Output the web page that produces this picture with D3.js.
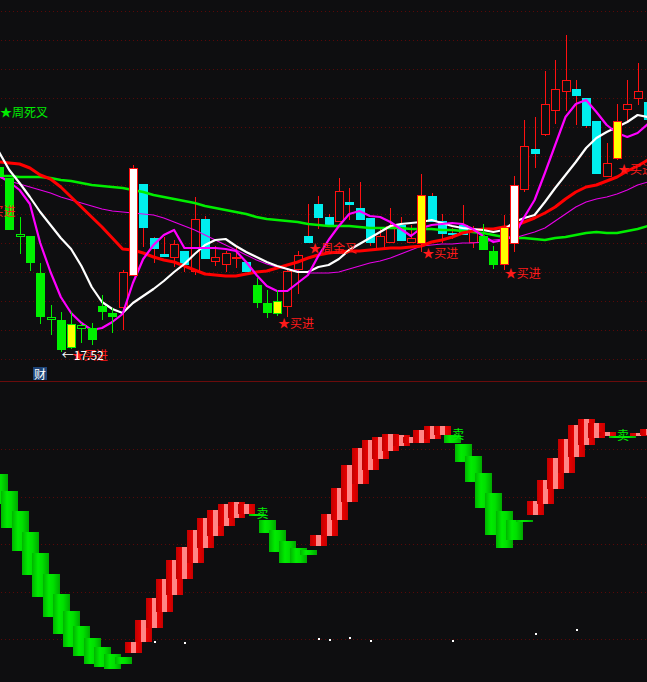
<!DOCTYPE html>
<html><head><meta charset="utf-8">
<script src="https://cdn.jsdelivr.net/npm/d3@7"></script>
<style>html,body{margin:0;padding:0;background:#0e0e10;overflow:hidden}svg{display:block}</style>
</head><body><svg id="c" width="647" height="682"></svg>
<script>
// ---------- data (index = trading day) ----------
const style = ["G","G","G","G","G","G","G","Y","G","G","G","G","K","W","K","K","K","K","K","K","K","K","K","K","K","G","G","Y","K","K","K","K","K","K","K","K","K","K","K","K","K","Y","K","K","K","K","K","G","G","Y","W","K","K","K","K","K","K","K","K","K","Y","K","K","K"];
const open  = [21.22,21.00,19.84,19.84,19.10,18.18,18.16,18.08,18.00,18.00,18.44,18.30,18.42,19.06,20.88,19.80,19.48,19.42,19.54,19.14,20.18,19.34,19.28,19.40,19.32,18.86,18.50,18.54,18.44,19.18,19.84,20.48,20.22,20.14,20.52,20.40,20.20,19.60,19.72,20.06,19.72,19.70,20.64,20.14,19.90,20.06,19.72,19.84,19.54,19.28,19.70,20.78,21.58,21.88,22.36,22.74,22.78,22.60,22.14,21.04,21.40,22.38,22.60,22.52];
const close = [21.02,19.96,19.88,19.30,18.22,18.22,17.56,17.62,18.06,17.76,18.32,18.22,19.12,21.20,20.00,19.58,19.42,19.68,19.26,20.18,19.38,19.42,19.50,19.42,19.12,18.50,18.30,18.30,19.14,19.46,19.70,20.20,20.06,20.74,20.46,20.16,19.70,19.84,20.04,19.74,19.80,20.66,20.12,19.88,19.86,19.86,19.92,19.56,19.26,20.02,20.86,21.64,21.48,22.48,22.78,22.96,22.64,22.04,21.08,21.30,22.14,22.48,22.74,22.16];
const high  = [21.26,21.00,20.22,19.84,19.30,18.46,18.32,18.32,18.10,18.10,18.66,18.40,19.16,21.26,20.88,19.82,19.82,19.76,19.54,20.62,20.24,19.64,19.54,19.62,19.32,19.00,18.76,18.76,19.16,19.54,20.48,20.64,20.28,21.00,20.80,20.92,20.20,20.02,20.40,20.22,20.06,21.08,20.70,20.28,20.00,20.46,20.04,20.08,19.64,20.26,21.04,22.16,22.22,23.14,23.36,23.86,22.96,22.60,22.14,21.70,22.48,22.96,23.30,22.52];
const low   = [21.00,19.96,19.48,19.14,18.08,17.86,17.52,17.58,17.70,17.66,18.16,17.90,17.96,19.06,19.62,19.30,19.42,19.22,19.12,19.06,19.38,19.24,19.12,19.20,19.12,18.40,18.20,18.24,18.22,18.68,19.70,19.98,20.06,20.14,20.16,20.16,19.64,19.56,19.72,19.74,19.72,19.52,20.12,19.70,19.78,19.86,19.60,19.56,19.18,19.16,19.52,20.72,21.20,21.84,22.08,22.34,22.06,22.00,21.08,21.04,21.36,22.12,22.46,22.16];

const lineWhite = [21.52,21.16,20.90,20.62,20.32,20.06,19.80,19.58,19.24,18.82,18.52,18.38,18.30,18.50,18.64,18.78,18.94,19.12,19.28,19.48,19.66,19.76,19.78,19.64,19.52,19.42,19.32,19.24,19.18,19.12,19.12,19.22,19.26,19.38,19.56,19.68,19.80,19.92,20.04,20.08,20.10,20.12,20.16,20.10,20.04,20.00,19.98,19.96,19.92,19.96,20.12,20.20,20.26,20.52,20.80,21.06,21.32,21.60,21.80,21.92,22.02,22.12,22.26,22.22];
const lineMagFast = [21.04,20.92,20.76,20.48,19.70,19.12,18.62,18.30,18.10,17.96,18.00,18.12,18.28,18.90,19.38,19.66,19.86,19.96,19.60,19.60,19.60,19.60,19.58,19.54,19.32,19.06,18.84,18.74,18.74,18.90,19.06,19.44,19.76,20.04,20.28,20.34,20.24,20.22,20.12,19.98,19.84,20.00,20.06,20.08,20.10,20.08,19.98,19.84,19.72,19.76,19.84,20.22,20.56,21.10,21.66,22.22,22.48,22.56,22.32,22.06,21.90,21.82,21.90,22.08];
const lineMagSlow = [21.02,20.94,20.88,20.82,20.76,20.70,20.62,20.56,20.50,20.44,20.38,20.34,20.32,20.30,20.28,20.26,20.20,20.12,20.04,19.96,19.86,19.76,19.66,19.56,19.46,19.36,19.28,19.22,19.18,19.14,19.10,19.10,19.10,19.12,19.18,19.24,19.30,19.34,19.40,19.48,19.56,19.64,19.66,19.68,19.68,19.70,19.70,19.72,19.76,19.78,19.80,19.86,19.92,20.00,20.14,20.28,20.42,20.52,20.58,20.62,20.68,20.76,20.86,20.92];
const lineRed = [21.32,21.30,21.28,21.20,21.06,20.98,20.82,20.62,20.42,20.22,20.02,19.80,19.58,19.56,19.50,19.42,19.36,19.32,19.24,19.16,19.08,19.06,19.04,19.04,19.08,19.12,19.14,19.20,19.26,19.32,19.40,19.46,19.50,19.52,19.54,19.54,19.56,19.58,19.60,19.60,19.62,19.64,19.72,19.76,19.82,19.90,19.94,19.98,19.98,20.02,20.04,20.12,20.20,20.30,20.42,20.58,20.72,20.82,20.86,20.94,21.02,21.14,21.24,21.36];
const lineGreen = [21.04,21.04,21.02,21.02,21.02,21.00,20.96,20.94,20.90,20.86,20.84,20.82,20.80,20.76,20.72,20.66,20.62,20.58,20.54,20.50,20.44,20.40,20.36,20.32,20.28,20.22,20.18,20.16,20.14,20.12,20.08,20.06,20.04,20.04,20.04,20.02,20.00,20.00,20.00,20.00,19.98,19.98,19.98,19.96,19.96,19.94,19.92,19.90,19.86,19.82,19.80,19.80,19.78,19.76,19.80,19.82,19.86,19.90,19.92,19.90,19.90,19.94,19.98,20.04];

const oscFast = [27.0,22.2,17.6,12.8,8.4,4.4,1.0,-1.6,-3.4,-5.0,-5.6,-6.0,-5.0,-0.6,3.8,8.2,12.0,15.8,18.4,21.8,24.2,25.8,27.0,27.4,27.0,24.6,21.2,17.4,15.2,15.2,16.8,20.8,25.0,30.2,34.8,38.2,39.8,40.4,41.0,40.8,40.4,41.8,42.6,42.6,39.2,35.4,31.4,26.2,20.8,18.2,19.8,23.4,27.6,31.8,36.2,40.0,42.8,44.0,43.2,41.4,40.2,40.2,41.2,42.0];
const oscSlow = [33.0,29.6,25.6,21.4,17.2,13.0,9.0,5.6,2.6,0.2,-1.6,-3.0,-3.6,-2.8,-0.6,2.2,5.4,8.8,12.0,15.2,18.2,20.6,22.6,24.2,25.0,25.0,23.8,21.8,19.6,18.2,17.8,18.6,20.6,23.8,27.4,31.0,33.8,36.0,37.6,38.6,39.2,39.2,40.0,40.8,40.8,39.0,36.6,33.2,29.2,25.6,23.8,23.8,24.8,27.0,30.0,33.2,36.4,38.8,40.2,40.6,40.6,40.6,40.6,40.8];
const dotIdx = [15,18,31,32,34,36,44,52,56];
const dotVal = [-0.6,-0.8,0,-0.2,0.2,-0.4,-0.4,1.0,1.8];

const buyIdx   = [-2,7,27,41,49,60];
const buyPrice = [20.36,17.48,18.12,19.52,19.12,21.20];
const crossIdx   = [0,30];
const crossText  = ["★周死叉","★周金叉"];
const crossPrice = [22.34,19.62];
const sellIdx = [25,44,60];
const sellVal = [25.4,41.1,40.9];
const finIdx = 4;            // 财 marker
const lowLabel = "←17.52";
const priceTicks = [24.34,23.76,23.18,22.60,22.02,21.44,20.86,20.28,19.70,19.12,18.54,17.96,17.38];
const oscTicks = [0,9.5,19,28.5,38];

// ---------- setup ----------
const W = 647, H = 682, SPLIT = 381;
const BG = "#0e0e10", RED = "#ff1010", CYAN = "#00eeee", GRN = "#00f000", YEL = "#ffff00";
const svg = d3.select("#c");
svg.append("rect").attr("width", W).attr("height", H).attr("fill", BG);
const n = open.length;
const x = d3.scaleLinear().domain([0, n - 1]).range([-1, 647.9]);
const yP = d3.scaleLinear().domain([16.94, 24.56]).range([SPLIT, 0]);
const yS = d3.scaleLinear().domain([-8.6, 51.4]).range([H, SPLIT + 1]);

// grids
const grid = svg.append("g").attr("stroke", "#5a0808").attr("stroke-width", 1).attr("stroke-dasharray", "1,3");
grid.selectAll(".gp").data(priceTicks).join("line")
  .attr("x1", 1).attr("x2", W).attr("y1", d => Math.round(yP(d)) + 0.5).attr("y2", d => Math.round(yP(d)) + 0.5);
grid.selectAll(".gs").data(oscTicks).join("line")
  .attr("x1", 1).attr("x2", W).attr("y1", d => Math.round(yS(d)) + 0.5).attr("y2", d => Math.round(yS(d)) + 0.5);
svg.append("line").attr("x1", 0).attr("x2", W).attr("y1", SPLIT + 0.5).attr("y2", SPLIT + 0.5)
  .attr("stroke", "#6a0c0c").attr("stroke-width", 1);

// ---------- candles ----------
function drawCandle(g, i) {
  const cx = Math.round(x(i));
  const up = close[i] >= open[i];
  const st = style[i];
  let fill, stroke, wick, hollow;
  if (st === "K") { if (up) { fill = BG; stroke = RED; wick = RED; hollow = true; } else { fill = CYAN; stroke = CYAN; wick = RED; hollow = false; } }
  else if (st === "G") { wick = GRN; stroke = GRN; if (up) { fill = BG; hollow = true; } else { fill = GRN; hollow = false; } }
  else if (st === "Y") { fill = YEL; stroke = up ? RED : GRN; wick = stroke; hollow = true; }
  else { fill = "#ffffff"; stroke = RED; wick = RED; hollow = true; }
  const yT = Math.round(yP(Math.max(open[i], close[i])));
  const yB = Math.round(yP(Math.min(open[i], close[i])));
  const yH = Math.round(yP(high[i])), yL = Math.round(yP(low[i]));
  const wx = cx + 0.5;
  if (hollow) {
    if (yH < yT) g.append("line").attr("x1", wx).attr("x2", wx).attr("y1", yH).attr("y2", yT).attr("stroke", wick);
    if (yL > yB) g.append("line").attr("x1", wx).attr("x2", wx).attr("y1", yB).attr("y2", yL).attr("stroke", wick);
    g.append("rect").attr("x", cx - 3.5).attr("y", yT + 0.5).attr("width", 8).attr("height", Math.max(yB - yT, 1))
      .attr("fill", fill).attr("stroke", stroke).attr("stroke-width", 1);
  } else {
    if (yL > yH) g.append("line").attr("x1", wx).attr("x2", wx).attr("y1", yH).attr("y2", yL).attr("stroke", wick);
    g.append("rect").attr("x", cx - 4).attr("y", yT).attr("width", 9).attr("height", Math.max(yB - yT, 1)).attr("fill", fill);
  }
}
const gK1 = svg.append("g").attr("shape-rendering", "crispEdges");
d3.range(n).filter(i => style[i] === "K").forEach(i => drawCandle(gK1, i));

// ---------- lines ----------
const lineGen = arr => d3.line().x((d, i) => x(i)).y(d => yP(d))(arr);
const series = [
  [lineGreen, "#00ee00", 2.6],
  [lineMagSlow, "#e800e8", 1.1],
  [lineRed, "#ff0000", 3],
  [lineWhite, "#ffffff", 2.2],
  [lineMagFast, "#ff00ff", 2.2]
];
series.forEach(([arr, col, w]) => svg.append("path").attr("d", lineGen(arr)).attr("fill", "none")
  .attr("stroke", col).attr("stroke-width", w).attr("stroke-linejoin", "round"));

const gK2 = svg.append("g").attr("shape-rendering", "crispEdges");
d3.range(n).filter(i => style[i] !== "K").forEach(i => drawCandle(gK2, i));

// ---------- labels upper ----------
const FONT = "'Noto Sans CJK SC','Noto Sans',sans-serif";
svg.selectAll(".buy").data(buyIdx).join("text")
  .attr("x", d => x(d) + 1).attr("y", (d, k) => yP(buyPrice[k])).attr("dominant-baseline", "central")
  .attr("font-family", FONT).attr("font-size", 12).attr("fill", "#ff1a1a").text("★买进");
svg.selectAll(".cross").data(crossIdx).join("text")
  .attr("x", d => x(d) + 1).attr("y", (d, k) => yP(crossPrice[k])).attr("dominant-baseline", "central")
  .attr("font-family", FONT).attr("font-size", 12).attr("fill", (d, k) => k === 0 ? "#00ee00" : "#ff1a1a")
  .text((d, k) => crossText[k]);
const lowI = d3.minIndex(low);
svg.append("text").attr("x", x(lowI) + 1).attr("y", yP(low[lowI]) + 2).attr("dominant-baseline", "central")
  .attr("font-family", FONT).attr("font-size", 12).attr("fill", "#ffffff").text(lowLabel);
svg.append("rect").attr("x", Math.round(x(finIdx)) - 7).attr("y", SPLIT - 14).attr("width", 14).attr("height", 13).attr("fill", "#1e4478");
svg.append("text").attr("x", Math.round(x(finIdx))).attr("y", SPLIT - 7.5).attr("text-anchor", "middle").attr("dominant-baseline", "central")
  .attr("font-family", FONT).attr("font-size", 12).attr("fill", "#ffffff").text("财");

// ---------- lower oscillator ----------
const defs = svg.append("defs");
const gr = defs.append("linearGradient").attr("id", "gRed");
[[0, "#c00000"], [0.34, "#e80000"], [0.35, "#ff8585"], [0.65, "#ff8585"], [0.66, "#e80000"], [1, "#c80000"]]
  .forEach(([o, c]) => gr.append("stop").attr("offset", o).attr("stop-color", c));
const gg = defs.append("linearGradient").attr("id", "gGrn");
[[0, "#00b400"], [0.35, "#00ec00"], [0.6, "#00e000"], [1, "#00a800"]]
  .forEach(([o, c]) => gg.append("stop").attr("offset", o).attr("stop-color", c));

const gO = svg.append("g").attr("shape-rendering", "crispEdges");
d3.range(n).forEach(i => {
  const a = yS(oscFast[i]), b = yS(oscSlow[i]);
  const top = Math.round(Math.min(a, b)), bot = Math.round(Math.max(a, b));
  const cx = Math.round(x(i));
  gO.append("rect").attr("x", cx - 8).attr("y", top).attr("width", 17).attr("height", Math.max(bot - top, 2))
    .attr("fill", oscFast[i] >= oscSlow[i] ? "url(#gRed)" : "url(#gGrn)");
});
gO.selectAll(".dot").data(dotIdx).join("rect")
  .attr("x", d => Math.round(x(d))).attr("y", (d, k) => Math.round(yS(dotVal[k])) - 1)
  .attr("width", 2).attr("height", 2).attr("fill", "#ffffff");
svg.selectAll(".sell").data(sellIdx).join("text")
  .attr("x", d => x(d)).attr("y", (d, k) => yS(sellVal[k])).attr("dominant-baseline", "central")
  .attr("font-family", FONT).attr("font-size", 12).attr("fill", "#00ee00").text("卖");
</script>
</body></html>
